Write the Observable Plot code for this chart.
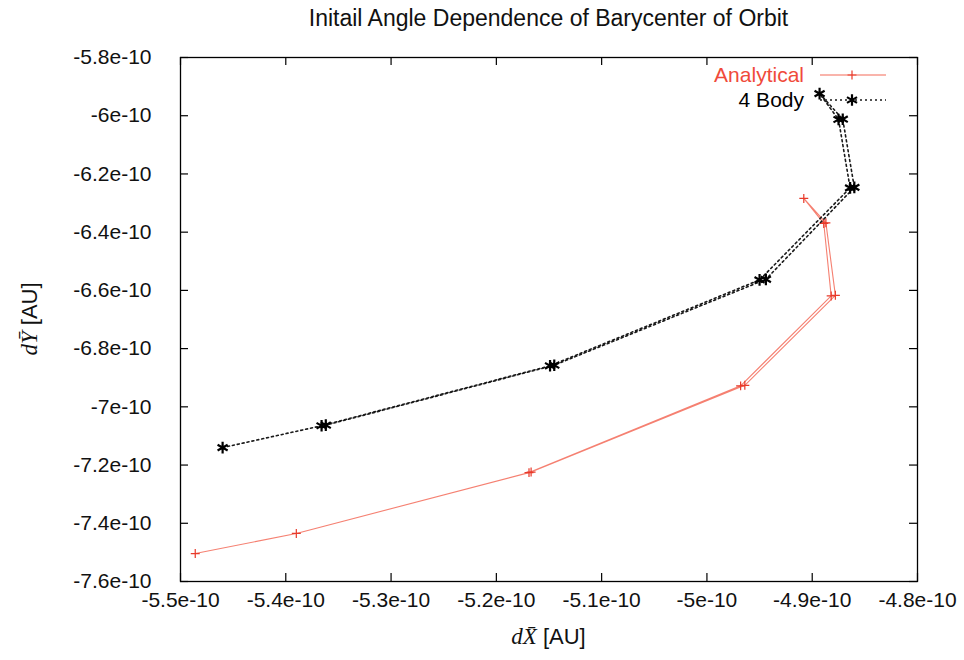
<!DOCTYPE html>
<html><head><meta charset="utf-8">
<script src="https://cdn.jsdelivr.net/npm/d3@7"></script>
<script src="https://cdn.jsdelivr.net/npm/@observablehq/plot@0.6"></script>
<style>
body{margin:0;background:#fff;}
#wrap{position:relative;width:964px;height:660px;font-family:"Liberation Sans",Arial,sans-serif;color:#111;}
#title{position:absolute;left:180px;width:737px;top:5px;text-align:center;font-size:23px;}
.lab{position:absolute;font-size:22px;white-space:nowrap;}
.lab i{font-family:"Liberation Serif","DejaVu Serif",serif;font-style:italic;font-size:23px;}
#xlab{left:180px;width:737px;top:624px;text-align:center;}
#ylab{left:30px;top:319px;transform:translate(-50%,-50%) rotate(-90deg);}
</style></head><body>
<div id="wrap">
<div id="title">Initail Angle Dependence of Barycenter of Orbit</div>
<div class="lab" id="xlab"><i>dX̄</i> [AU]</div>
<div class="lab" id="ylab"><i>dȲ</i> [AU]</div>
</div>
<script>
// values in units of 1e-10 AU
const xTicks = [-5.5, -5.4, -5.3, -5.2, -5.1, -5.0, -4.9, -4.8];
const yTicks = [-5.8, -6.0, -6.2, -6.4, -6.6, -6.8, -7.0, -7.2, -7.4, -7.6];
const seriesNames = ["Analytical", "4 Body"];

const analyticalX = [-5.486, -5.390, -5.169, -4.968, -4.882, -4.889, -4.908, -4.887, -4.878, -4.964, -5.167];
const analyticalY = [-7.504, -7.435, -7.226, -6.928, -6.619, -6.370, -6.284, -6.368, -6.617, -6.926, -7.224];

const bodyX = [-5.460, -5.366, -5.149, -4.950, -4.864, -4.875, -4.893, -4.871, -4.860, -4.944, -5.145, -5.362];
const bodyY = [-7.140, -7.065, -6.859, -6.564, -6.248, -6.013, -5.924, -6.012, -6.246, -6.562, -6.857, -7.063];

const fmt = d => `${+d.toFixed(1)}e-10`;
const analytical = analyticalX.map((x, i) => ({x, y: analyticalY[i]}));
const body = bodyX.map((x, i) => ({x, y: bodyY[i]}));

const W = 964, H = 660, mL = 180, mR = 47, mT = 57, mB = 79;
const fw = W - mL - mR, fh = H - mT - mB, tk = 8;
const red = "#f36a58";

const chart = Plot.plot({
  width: W, height: H,
  marginLeft: mL, marginRight: mR, marginTop: mT, marginBottom: mB,
  x: {domain: [-5.5, -4.8]},
  y: {domain: [-7.6, -5.8]},
  style: {fontFamily: "'Liberation Sans', Arial, sans-serif", fontSize: "21px", color: "#111", background: "white"},
  marks: [
    Plot.tickX(xTicks, {x: d => d, insetTop: fh - tk, stroke: "#000", strokeWidth: 1.2}),
    Plot.tickX(xTicks, {x: d => d, insetBottom: fh - tk, stroke: "#000", strokeWidth: 1.2}),
    Plot.tickY(yTicks, {y: d => d, insetRight: fw - tk, stroke: "#000", strokeWidth: 1.2}),
    Plot.tickY(yTicks, {y: d => d, insetLeft: fw - tk, stroke: "#000", strokeWidth: 1.2}),
    Plot.axisX({ticks: xTicks, anchor: "bottom", tickSize: 0, tickPadding: 11, tickFormat: fmt, label: null, fontSize: 21}),
    Plot.axisY({ticks: yTicks, anchor: "left", tickSize: 0, tickPadding: 29, tickFormat: fmt, label: null, fontSize: 21}),
    Plot.line(analytical, {x: "x", y: "y", stroke: red, strokeWidth: 1.1, strokeOpacity: 0.85}),
    Plot.dot(analytical, {x: "x", y: "y", symbol: "plus", r: 3, stroke: "#e83a2a", strokeWidth: 1.2}),
    Plot.line(body, {x: "x", y: "y", stroke: "#1a1a1a", strokeWidth: 1.6, strokeDasharray: "2,3"}),
    Plot.dot(body, {x: "x", y: "y", symbol: "asterisk", r: 5.5, stroke: "#000", strokeWidth: 2.2}),
    Plot.frame({stroke: "#000", strokeWidth: 1.3})
  ]
});
const wrap = document.getElementById("wrap");
wrap.insertBefore(chart, wrap.firstChild);

// legend
const ns = "http://www.w3.org/2000/svg";
const leg = document.createElementNS(ns, "svg");
leg.setAttribute("width", W); leg.setAttribute("height", 130);
leg.style.position = "absolute"; leg.style.left = "0"; leg.style.top = "0"; leg.style.pointerEvents = "none";
const legendItems = [
  {name: seriesNames[0], color: red, textColor: "#f04a3a", dash: null, sym: "plus", cy: 75},
  {name: seriesNames[1], color: "#1a1a1a", textColor: "#000", dash: "2,3", sym: "asterisk", cy: 100}
];
for (const it of legendItems) {
  const t = document.createElementNS(ns, "text");
  t.setAttribute("x", 804); t.setAttribute("y", it.cy); t.setAttribute("dy", "0.35em");
  t.setAttribute("text-anchor", "end"); t.setAttribute("font-size", 21);
  t.setAttribute("font-family", "'Liberation Sans', Arial, sans-serif");
  t.setAttribute("fill", it.textColor); t.textContent = it.name;
  leg.appendChild(t);
  const l = document.createElementNS(ns, "line");
  l.setAttribute("x1", 820); l.setAttribute("x2", 886); l.setAttribute("y1", it.cy); l.setAttribute("y2", it.cy);
  l.setAttribute("stroke", it.color); l.setAttribute("stroke-width", it.dash ? 1.6 : 1.1);
  if (it.dash) l.setAttribute("stroke-dasharray", it.dash);
  leg.appendChild(l);
  const p = document.createElementNS(ns, "path");
  const sym = it.sym === "plus" ? d3.symbol(d3.symbolPlus, 28) : d3.symbol(d3.symbolAsterisk, 95);
  p.setAttribute("d", sym());
  p.setAttribute("transform", `translate(852,${it.cy})`);
  p.setAttribute("fill", "none"); p.setAttribute("stroke", it.sym === "plus" ? "#e83a2a" : "#000");
  p.setAttribute("stroke-width", it.sym === "plus" ? 1.2 : 2.2);
  leg.appendChild(p);
}
wrap.appendChild(leg);
</script>
</body></html>
